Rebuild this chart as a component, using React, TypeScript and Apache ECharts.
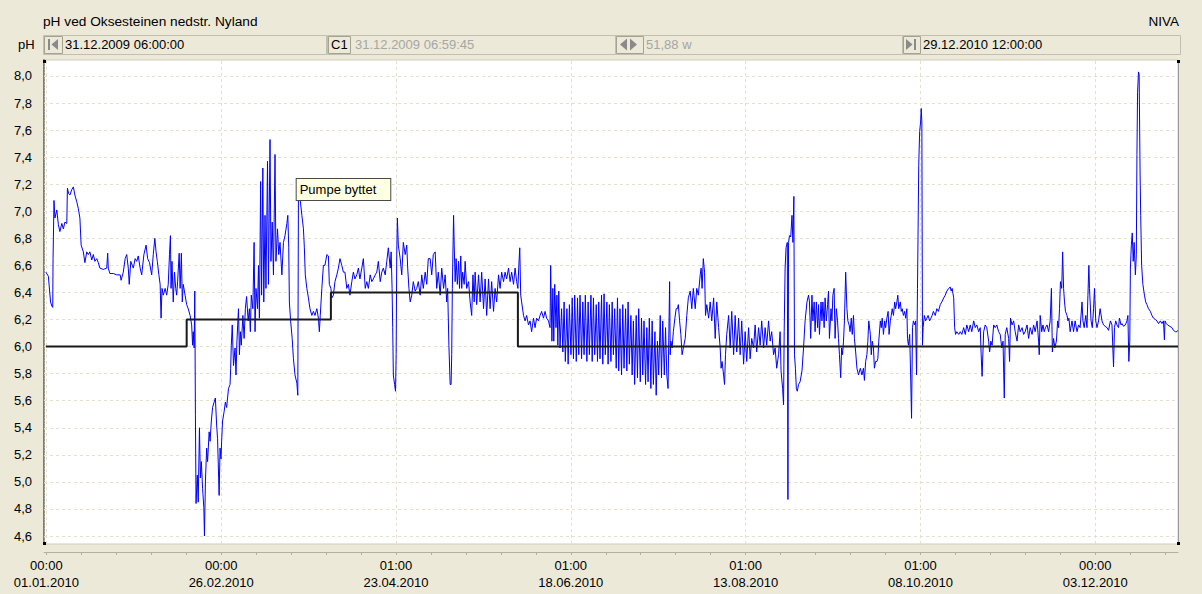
import React, { useEffect, useRef } from "react";
import * as echarts from "echarts";

const FONT = '"Liberation Sans", Arial, sans-serif';

// ---- axis ranges (days since 31.12.2009 06:00) ----
const X_MIN = 0;
const X_MAX = 363.25;
const Y_MIN = 4.541;
const Y_MAX = 8.118;

// ---- tick labels ----
const yTicks = [4.6, 4.8, 5.0, 5.2, 5.4, 5.6, 5.8, 6.0, 6.2, 6.4, 6.6, 6.8, 7.0, 7.2, 7.4, 7.6, 7.8, 8.0];
const xLabelDays = [0.75, 56.75, 112.75, 168.75, 224.75, 280.75, 336.75];
const xLabelTimes = ["00:00", "00:00", "01:00", "01:00", "01:00", "01:00", "00:00"];
const xLabelDates = ["01.01.2010", "26.02.2010", "23.04.2010", "18.06.2010", "13.08.2010", "08.10.2010", "03.12.2010"];

// ---- limit (step) line ----
const stepDays = [0.6, 45.7, 91.9, 151.8, 363.25];
const stepValues = [6.0, 6.2, 6.4, 6.0, 6.0];

// ---- annotation ----
const annotationText = "Pumpe byttet";
const annotationDay = 81.1;
const annotationValue = 7.08;

// ---- pH measurements [day, pH] ----
const phJanApr: [number, number][] = [
  [0.6,6.55],[1.4,6.52],[2.1,6.33],[2.5,6.30],[2.8,6.29],[2.9,6.65],[3.2,7.08],[3.5,6.95],[4.1,7.01],[4.6,6.90],
  [5.1,6.85],[5.7,6.91],[6.2,6.87],[6.7,6.92],[7.3,6.91],[7.5,7.17],[7.9,7.13],[8.3,7.12],[8.9,7.16],[9.4,7.18],
  [9.9,7.12],[10.5,7.07],[11.0,7.02],[11.5,6.95],[11.9,6.75],[12.6,6.70],[13.1,6.62],[13.7,6.70],[14.2,6.68],[14.7,6.70],
  [15.3,6.64],[15.8,6.68],[16.3,6.63],[16.9,6.65],[17.4,6.62],[17.9,6.58],[19.0,6.57],[20.1,6.58],[20.4,6.69],[20.6,6.58],
  [21.1,6.54],[22.2,6.54],[23.3,6.53],[24.4,6.53],[24.7,6.49],[25.4,6.55],[26.0,6.65],[26.5,6.68],[27.0,6.58],[27.3,6.46],
  [27.8,6.63],[28.6,6.58],[29.2,6.65],[29.7,6.63],[30.2,6.67],[30.8,6.58],[31.3,6.53],[32.0,6.68],[32.7,6.75],[33.2,6.65],
  [33.8,6.62],[34.5,6.53],[35.0,6.68],[35.5,6.80],[35.9,6.70],[36.3,6.63],[36.8,6.53],[37.2,6.46],[37.5,6.21],[37.8,6.43],
  [38.2,6.38],[38.8,6.43],[39.3,6.38],[39.8,6.46],[40.2,6.68],[40.5,6.82],[40.7,6.43],[41.0,6.63],[41.4,6.33],[41.8,6.55],
  [42.2,6.43],[42.5,6.38],[42.8,6.48],[43.3,6.69],[43.6,6.43],[44.0,6.69],[44.3,6.33],[44.6,6.46],[45.2,6.38],[45.7,6.31],
  [46.2,6.28],[46.8,6.23],[47.3,6.16],[47.6,6.01],[47.8,6.11],[48.1,5.99],[48.3,6.41],[48.5,5.50],[48.7,4.84],[49.1,5.05],
  [49.4,4.85],[49.8,5.40],[50.1,5.03],[50.4,5.15],[50.8,4.95],[51.2,4.81],[51.4,4.60],[51.7,5.00],[52.1,5.25],[52.4,5.15],
  [52.9,5.37],[53.2,5.30],[53.6,5.45],[54.0,5.55],[54.5,5.59],[54.9,5.62],[55.3,5.42],[55.6,5.32],[56.1,4.90],[56.4,5.25],
  [56.7,5.17],[56.9,5.30],[57.2,5.45],[57.7,5.52],[58.1,5.59],[58.5,5.55],[59.1,5.69],[59.6,5.72],[59.8,5.84],[60.0,6.01],
  [60.3,6.16],[60.7,5.86],[61.2,5.99],[61.5,5.79],[61.8,6.04],[62.3,6.28],[62.6,5.94],[62.9,6.11],[63.2,6.01],[63.7,6.23],
  [64.1,6.06],[64.5,6.28],[64.9,6.37],[65.4,6.19],[65.8,6.28],[66.1,6.11],[66.4,6.38],[66.9,6.28],[67.3,6.77],[67.6,6.11],
  [67.9,6.43],[68.4,6.28],[68.7,6.60],[69.0,6.21],[69.4,7.22],[69.7,6.38],[70.1,7.32],[70.4,6.33],[70.8,6.97],[71.1,6.43],
  [71.6,7.37],[71.9,6.46],[72.4,7.53],[72.7,6.63],[73.1,6.92],[73.5,6.53],[74.0,7.42],[74.3,6.63],[74.8,6.87],[75.2,6.68],
  [75.6,6.77],[76.2,6.53],[76.7,6.77],[77.2,6.82],[77.8,6.91],[78.1,6.97],[78.4,6.73],[78.6,6.33],[79.0,6.19],[79.5,6.06],
  [79.9,5.91],[80.4,5.79],[81.0,5.73],[81.3,5.64],[81.5,7.10],[82.0,7.10],[82.6,6.97],[83.1,6.87],[83.4,6.73],[83.7,6.53],
  [84.2,6.43],[84.7,6.36],[85.2,6.28],[85.8,6.23],[86.3,6.26],[86.8,6.23],[87.4,6.28],[87.9,6.21],[88.2,6.11],[88.5,6.23],
  [89.0,6.43],[89.5,6.60],[90.0,6.60],[90.6,6.68],[91.1,6.67],[91.4,6.46],[91.9,6.43],[92.2,6.36],[92.7,6.38],[93.2,6.48],
  [93.8,6.53],[94.3,6.58],[94.8,6.65],[95.4,6.60],[95.9,6.55],[96.4,6.55],[97.0,6.43],[97.5,6.46],[98.0,6.38],[98.6,6.48],
  [99.1,6.55],[99.6,6.50],[100.2,6.53],[100.7,6.58],[101.2,6.50],[101.8,6.58],[102.3,6.65],[102.9,6.43],[103.4,6.48],[103.9,6.43],
  [104.5,6.53],[105.0,6.48],[105.5,6.50],[106.1,6.53],[106.6,6.55],[107.1,6.63],[107.7,6.48],[108.2,6.55],[108.7,6.58],[109.3,6.53],
  [109.8,6.63],[110.3,6.73],[110.9,6.58],[111.2,6.70],[111.5,6.43],[111.7,6.14],[111.9,5.79],[112.3,5.72],[112.6,5.67],[112.8,5.94],
  [113.0,6.68],[113.2,6.95],[113.5,6.75],[114.1,6.65],[114.6,6.53],[115.1,6.77],[115.7,6.68],[116.2,6.75],[116.5,6.58],[116.9,6.43],
  [117.3,6.33],[117.8,6.38],[118.3,6.48],[118.9,6.41],[119.4,6.43],[119.9,6.48],[120.5,6.38],[121.0,6.53],[121.5,6.43],[122.1,6.55],
  [122.6,6.46],[123.1,6.65],
];

const phMayAug: [number, number][] = [
  [123.7,6.65],[124.2,6.53],[124.7,6.68],[125.3,6.70],[125.8,6.43],[126.3,6.55],[126.9,6.38],[127.4,6.58],[128.0,6.43],[128.5,6.53],
  [129.0,6.33],[129.3,6.43],[129.7,6.01],[130.1,5.72],[130.4,5.72],[130.6,5.94],[130.8,6.43],[131.2,6.97],[131.4,6.75],[131.7,6.48],
  [132.0,6.65],[132.4,6.46],[132.8,6.63],[133.1,6.43],[133.5,6.67],[133.8,6.43],[134.1,6.55],[134.6,6.46],[134.9,6.63],[135.4,6.43],
  [136.0,6.48],[136.5,6.33],[137.0,6.23],[137.4,6.53],[137.8,6.33],[138.1,6.55],[138.6,6.31],[139.2,6.53],[139.7,6.33],[140.2,6.55],
  [140.8,6.28],[141.3,6.50],[141.8,6.23],[142.4,6.50],[142.9,6.28],[143.4,6.48],[144.0,6.26],[144.5,6.43],[145.0,6.33],[145.6,6.53],
  [146.1,6.43],[146.6,6.55],[147.2,6.48],[147.7,6.55],[148.2,6.50],[148.8,6.58],[149.3,6.48],[149.8,6.55],[150.4,6.46],[150.9,6.58],
  [151.4,6.48],[151.8,6.43],[152.1,6.60],[152.4,6.73],[152.7,6.38],[153.0,6.33],[153.6,6.23],[154.1,6.19],[154.6,6.23],[155.2,6.16],
  [155.7,6.19],[156.2,6.11],[156.8,6.21],[157.3,6.14],[157.8,6.21],[158.4,6.19],[158.9,6.23],[159.4,6.26],[160.0,6.21],[160.5,6.26],
  [161.0,6.21],[161.6,6.19],[162.1,6.14],[162.3,6.60],[162.7,6.04],[163.0,6.43],[163.3,6.04],[163.6,6.46],[164.0,6.14],[164.3,6.38],
  [164.6,6.01],[164.9,6.41],[165.3,5.99],[165.8,6.28],[166.2,5.96],[166.6,6.33],[167.0,5.89],[167.5,6.28],[167.9,5.87],[168.3,6.31],
  [168.8,5.94],[169.2,6.36],[169.6,5.91],[170.0,6.38],[170.5,5.89],[170.9,6.36],[171.3,5.94],[171.7,6.38],[172.2,5.91],[172.6,6.33],
  [173.0,5.94],[173.4,6.38],[173.9,5.89],[174.3,6.33],[174.7,5.94],[175.2,6.38],[175.6,5.89],[176.0,6.36],[176.4,5.94],[176.9,6.31],
  [177.3,5.89],[177.7,6.33],[178.1,5.91],[178.6,6.38],[179.0,5.87],[179.4,6.39],[179.8,5.94],[180.3,6.33],[180.7,5.87],[181.1,6.31],
  [181.6,5.89],[182.0,6.33],[182.4,5.94],[182.8,6.28],[183.3,5.84],[183.7,6.36],[184.1,5.82],[184.5,6.28],[185.0,5.79],[185.4,6.31],
  [185.8,5.84],[186.3,6.28],[186.7,5.82],[187.1,6.33],[187.5,5.87],[188.0,6.23],[188.4,5.79],[188.8,6.19],[189.2,5.72],[189.7,6.23],
  [190.1,5.77],[190.5,6.28],[191.0,5.74],[191.4,6.21],[191.8,5.79],[192.2,6.19],[192.7,5.72],[193.1,6.14],[193.5,5.74],[193.9,6.21],
  [194.4,5.69],[194.8,6.19],[195.2,5.72],[195.7,6.11],[196.1,5.64],[196.5,6.04],[196.9,5.79],[197.4,6.23],[197.8,5.77],[198.2,6.19],
  [198.7,5.79],[199.1,6.14],[199.5,5.79],[199.9,5.69],[200.4,6.48],[200.6,5.94],[200.8,6.04],[201.2,5.99],[201.6,6.11],[202.1,6.21],
  [202.5,6.28],[202.9,6.28],[203.2,6.31],[203.6,6.19],[204.0,6.09],[204.4,5.94],[204.8,5.99],[205.4,6.06],[205.9,6.23],[206.4,6.36],
  [207.0,6.41],[207.5,6.28],[208.0,6.43],[208.6,6.28],[209.1,6.43],[209.6,6.38],[210.2,6.53],[210.5,6.58],[210.8,6.43],[211.2,6.65],
  [211.6,6.55],[211.9,6.23],[212.3,6.31],[212.9,6.21],[213.4,6.33],[213.9,6.19],[214.5,6.36],[215.0,6.06],[215.5,6.33],[216.1,6.14],
  [216.6,5.99],[216.9,5.84],[217.2,5.89],[217.7,5.79],[218.0,5.72],[218.3,5.94],[218.7,6.09],[219.3,6.23],[219.8,5.99],[220.3,6.26],
  [220.9,5.94],[221.4,6.23],[221.9,5.96],[222.5,6.21],[223.0,5.94],[223.5,6.19],[224.1,5.87],[224.6,6.11],[225.1,5.89],[225.7,6.14],
  [226.2,5.91],[226.7,6.06],[227.3,5.99],[227.8,6.16],[228.3,5.96],[228.9,6.14],[229.4,6.01],[229.9,6.19],[230.5,5.99],[231.0,6.14],
  [231.5,6.01],[232.1,6.19],[232.6,6.04],[233.1,6.11],[233.7,5.94],[234.2,5.99],[234.7,5.84],[235.3,5.94],[235.8,6.11],[236.1,5.82],
  [236.6,5.69],[236.9,5.57],[237.1,6.11],[237.4,6.58],[237.7,6.73],[238.1,6.77],[238.3,4.87],[238.5,6.77],[238.8,6.82],[239.2,6.81],
  [239.6,6.97],[239.9,6.77],[240.2,7.11],[240.4,5.94],[240.7,5.84],[241.0,5.69],[241.3,5.67],[241.7,5.72],[242.2,5.74],[242.8,5.82],
  [243.3,5.99],[243.8,6.19],[244.4,6.33],[244.9,6.38],
];

const phSepDec: [number, number][] = [
  [245.2,6.33],[245.6,6.06],[246.0,6.38],[246.3,6.19],[246.7,6.33],[247.0,6.11],[247.4,6.33],[247.8,6.14],[248.1,6.31],[248.4,6.09],
  [248.9,6.33],[249.2,6.19],[249.5,6.33],[249.9,6.14],[250.2,6.36],[250.6,6.19],[251.0,6.31],[251.3,6.41],[251.6,6.06],[252.1,6.28],
  [252.4,6.19],[252.7,6.38],[253.1,6.43],[253.4,6.06],[253.8,6.28],[254.2,6.19],[254.5,6.06],[254.8,5.94],[255.2,5.77],[255.5,5.99],
  [255.8,5.94],[256.1,6.04],[256.4,6.19],[256.8,6.55],[257.0,6.55],[257.2,6.28],[257.5,6.19],[257.9,6.16],[258.2,6.11],[258.6,6.21],
  [258.9,6.09],[259.3,6.23],[259.6,6.06],[260.0,5.96],[260.4,5.84],[260.9,5.79],[261.5,5.84],[262.0,5.79],[262.5,5.84],[262.8,5.75],
  [263.2,5.89],[263.6,5.94],[263.9,6.04],[264.2,6.19],[264.7,6.09],[265.0,5.94],[265.3,6.04],[265.7,5.99],[266.0,5.84],[266.4,5.89],
  [266.8,5.89],[267.1,5.91],[267.4,6.04],[267.9,6.19],[268.2,6.14],[268.5,6.21],[268.9,6.09],[269.3,6.19],[269.6,6.14],[270.0,6.21],
  [270.4,6.26],[270.7,6.09],[271.1,6.19],[271.4,6.23],[271.7,6.28],[272.1,6.23],[272.5,6.33],[272.8,6.28],[273.2,6.33],[273.5,6.38],
  [273.8,6.28],[274.3,6.33],[274.6,6.26],[274.9,6.28],[275.3,6.23],[275.7,6.26],[276.0,6.21],[276.4,6.28],[276.6,6.06],[276.9,6.01],
  [277.3,6.09],[277.6,5.79],[277.9,5.47],[278.2,6.14],[278.5,6.19],[278.9,6.16],[279.2,6.19],[279.5,5.79],[279.8,6.43],[280.0,6.87],
  [280.2,7.34],[280.5,7.59],[280.8,7.66],[281.0,7.76],[281.2,7.66],[281.4,6.01],[281.6,6.14],[282.0,6.23],[282.4,6.19],[282.8,6.21],
  [283.2,6.23],[283.7,6.19],[284.1,6.21],[284.5,6.23],[284.9,6.26],[285.5,6.23],[286.0,6.28],[286.5,6.26],[287.1,6.31],[287.6,6.33],
  [288.2,6.36],[288.7,6.38],[289.2,6.41],[289.8,6.43],[290.3,6.44],[290.6,6.41],[290.9,6.43],[291.4,6.36],[291.7,6.14],[292.0,6.09],
  [292.4,6.11],[293.0,6.09],[293.5,6.11],[294.0,6.09],[294.6,6.14],[295.1,6.09],[295.6,6.16],[296.2,6.11],[296.7,6.16],[297.2,6.11],
  [297.8,6.19],[298.3,6.14],[298.8,6.16],[299.4,6.11],[299.9,6.14],[300.2,5.94],[300.5,5.78],[301.0,6.11],[301.5,6.16],[302.0,6.14],
  [302.6,6.04],[302.9,5.96],[303.3,6.04],[303.7,6.01],[304.2,6.16],[304.7,6.14],[305.2,6.16],[305.8,6.11],[306.3,6.09],[306.8,5.99],
  [307.2,6.04],[307.6,5.62],[307.9,6.09],[308.4,6.14],[309.0,6.06],[309.3,5.89],[309.6,6.21],[310.1,6.16],[310.6,6.19],[311.1,6.11],
  [311.7,6.04],[312.2,6.16],[312.7,6.11],[313.3,6.14],[313.8,6.09],[314.3,6.11],[314.9,6.16],[315.4,6.06],[315.9,6.14],[316.5,6.09],
  [317.0,6.16],[317.5,6.11],[318.1,6.19],[318.6,6.04],[318.8,5.94],[319.1,6.23],[319.6,6.11],[320.0,6.16],[320.4,6.11],[320.8,6.14],
  [321.3,6.16],[321.8,6.11],[322.3,6.19],[322.7,6.43],[323.0,5.96],[323.4,6.06],[323.8,5.99],[324.3,6.04],[324.7,6.19],[325.0,6.14],
  [325.3,6.28],[325.6,6.48],[326.0,6.43],[326.3,6.70],[326.6,6.43],[326.9,6.33],[327.2,6.26],[327.7,6.23],[328.0,6.19],[328.3,6.21],
  [328.7,6.11],[329.3,6.19],[329.8,6.11],[330.3,6.19],[330.9,6.11],[331.4,6.16],[331.9,6.14],[332.5,6.33],[332.8,6.19],[333.2,6.14],
  [333.7,6.23],[334.1,6.14],[334.4,6.38],[334.7,6.60],[334.9,6.43],[335.4,6.19],[335.8,6.14],[336.2,6.28],[336.5,6.43],[336.9,6.19],
  [337.3,6.14],[337.8,6.19],[338.3,6.28],[338.9,6.19],[339.4,6.16],[339.9,6.15],[340.5,6.14],[341.0,6.12],[341.6,6.19],[342.1,6.16],
  [342.6,5.85],[342.9,6.14],[343.3,6.19],[343.7,6.16],[344.2,6.14],[344.5,6.21],[345.0,6.16],[345.3,6.17],[345.8,6.15],[346.4,6.16],
  [346.9,6.19],[347.2,6.23],[347.5,5.89],[347.8,6.04],[348.0,6.58],[348.3,6.75],[348.6,6.84],[348.9,6.63],[349.2,6.77],[349.6,6.53],
  [349.9,6.68],[350.1,7.42],[350.3,7.88],[350.6,8.03],[350.8,8.01],[351.1,7.29],[351.3,6.97],[351.6,6.60],[352.0,6.46],[352.5,6.38],
  [352.9,6.33],[353.3,6.31],[353.8,6.28],[354.4,6.26],[354.9,6.23],[355.4,6.21],[356.0,6.20],[356.5,6.19],[357.0,6.17],[357.6,6.19],
  [358.1,6.17],[358.6,6.19],[358.9,6.05],[359.1,6.19],[359.5,6.17],[359.9,6.16],[360.6,6.15],[361.3,6.14],[361.8,6.12],[362.4,6.11],
  [362.9,6.11],[363.2,6.12],
];

const phData = [...phJanApr, ...phMayAug, ...phSepDec];

// minor ticks of the bottom strip: 5 per 56-day label step
const minorTickDays: number[] = [];
for (let d = xLabelDays[0]; d <= X_MAX; d += 11.2) minorTickDays.push(d);

const fmtY = (v: number) => v.toFixed(1).replace(".", ",");
const fmtX = (v: number) => {
  const i = xLabelDays.findIndex((d) => Math.abs(d - v) < 1e-6);
  return i >= 0 ? `${xLabelTimes[i]}\n${xLabelDates[i]}` : "";
};

const BG = "#ECE9D8";
const FIELD_STROKE = "#c2bfae";
const BTN_STROKE = "#a5a292";
const ICON = "#8a8a8a";

const txt = (text: string, x: number, y: number, fill = "#000", align = "left", size = 13) => ({
  type: "text",
  silent: true,
  style: { text, x, y, fill, fontSize: size, fontFamily: FONT, verticalAlign: "middle", align },
});
const box = (x: number, y: number, w: number, h: number, stroke: string) => ({
  type: "rect",
  silent: true,
  shape: { x: x + 0.5, y: y + 0.5, width: w, height: h },
  style: { fill: BG, stroke, lineWidth: 1 },
});
const corner = (x: number, y: number) => ({
  type: "rect",
  silent: true,
  shape: { x, y, width: 3, height: 3 },
  style: { fill: "#000" },
  z: 10,
});

const graphic = [
  txt("pH ved Oksesteinen nedstr. Nyland", 43, 21.5, "#000", "left", 13.7),
  txt("NIVA", 1179, 21.5, "#000", "right", 13.5),
  txt("pH", 18, 44.5),
  // field 1
  box(43, 35, 283, 19, FIELD_STROKE),
  box(44, 36, 18, 17, BTN_STROKE),
  { type: "rect", silent: true, shape: { x: 48, y: 39, width: 2, height: 11 }, style: { fill: ICON } },
  { type: "polygon", silent: true, shape: { points: [[58, 39], [58, 50], [51.5, 44.5]] }, style: { fill: ICON } },
  txt("31.12.2009 06:00:00", 65, 44.5),
  // field 2
  box(327, 35, 288, 19, FIELD_STROKE),
  box(328, 36, 22, 17, BTN_STROKE),
  txt("C1", 331, 44.5),
  txt("31.12.2009 06:59:45", 355, 44.5, "#a6a6a6"),
  // field 3
  box(615, 35, 287, 19, FIELD_STROKE),
  box(616, 36, 27, 17, BTN_STROKE),
  { type: "polygon", silent: true, shape: { points: [[627, 38.5], [627, 50.5], [620, 44.5]] }, style: { fill: ICON } },
  { type: "polygon", silent: true, shape: { points: [[630, 38.5], [630, 50.5], [637, 44.5]] }, style: { fill: ICON } },
  txt("51,88 w", 646, 44.5, "#a6a6a6"),
  // field 4
  box(902, 35, 278, 19, FIELD_STROKE),
  box(903, 36, 17, 17, BTN_STROKE),
  { type: "polygon", silent: true, shape: { points: [[906, 39], [906, 50], [912.5, 44.5]] }, style: { fill: ICON } },
  { type: "rect", silent: true, shape: { x: 914, y: 39, width: 2, height: 11 }, style: { fill: ICON } },
  txt("29.12.2010 12:00:00", 923, 44.5),
  // plot frame right edge & corners
  { type: "line", silent: true, shape: { x1: 1178.5, y1: 60, x2: 1178.5, y2: 545 }, style: { stroke: "#9a9a9a", lineWidth: 1 }, z: 10 },
  corner(43, 60),
  corner(43, 542),
  corner(1177, 60),
  corner(1177, 542),
];

const option: any = {
  animation: false,
  backgroundColor: BG,
  textStyle: { fontFamily: FONT },
  grid: {
    left: 44,
    top: 60,
    right: 24,
    bottom: 50,
    show: true,
    backgroundColor: "#ffffff",
    borderColor: "#cfccbc",
    borderWidth: 1,
  },
  xAxis: [
    {
      type: "value",
      min: X_MIN,
      max: X_MAX,
      axisLine: { show: false },
      axisTick: { show: false },
      splitLine: { show: false },
      axisLabel: {
        customValues: xLabelDays,
        formatter: fmtX,
        margin: 13,
        lineHeight: 17,
        fontSize: 13,
        color: "#000",
        fontFamily: FONT,
      },
    },
    {
      type: "value",
      min: X_MIN,
      max: X_MAX,
      position: "bottom",
      offset: 8,
      axisLine: { show: true, lineStyle: { color: "#b3b09f", width: 1 } },
      axisTick: { show: true, customValues: minorTickDays, length: 3, lineStyle: { color: "#b3b09f" } },
      axisLabel: { show: false },
      splitLine: { show: false },
    },
  ],
  yAxis: [
    {
      type: "value",
      min: Y_MIN,
      max: Y_MAX,
      axisLine: { show: true, lineStyle: { color: "#7c7c7c", width: 2 } },
      axisTick: { show: false },
      splitLine: { show: false },
      axisLabel: {
        customValues: yTicks,
        formatter: fmtY,
        margin: 12,
        fontSize: 13,
        color: "#000",
        fontFamily: FONT,
      },
    },
    {
      type: "value",
      min: Y_MIN,
      max: Y_MAX,
      position: "left",
      offset: 9,
      axisLine: { show: true, lineStyle: { color: "#b8b5a4", width: 1, type: [1, 2] } },
      axisTick: { show: false },
      axisLabel: { show: false },
      splitLine: { show: false },
    },
  ],
  series: [
    {
      name: "grid",
      type: "line",
      data: [],
      silent: true,
      z: 1,
      markLine: {
        z: 1,
        silent: true,
        symbol: ["none", "none"],
        label: { show: false },
        lineStyle: { color: "#e4e0cc", type: [3, 3], width: 1 },
        emphasis: { disabled: true },
        data: [
          ...yTicks.map((v) => ({ yAxis: v })),
          ...xLabelDays.map((d) => ({ xAxis: d })),
        ],
      },
    },
    {
      name: "pH",
      type: "line",
      data: phData,
      showSymbol: false,
      symbol: "none",
      z: 3,
      lineStyle: { color: "#0000ff", width: 1 },
      emphasis: { disabled: true },
      markPoint: {
        z: 10,
        symbol: "rect",
        symbolSize: 1,
        itemStyle: { color: "rgba(0,0,0,0)" },
        silent: true,
        label: {
          show: true,
          formatter: annotationText,
          position: [0, 0],
          align: "left",
          verticalAlign: "bottom",
          backgroundColor: "#FFFFE1",
          borderColor: "#4a4a4a",
          borderWidth: 1,
          padding: [4, 14, 3, 3],
          color: "#000",
          fontSize: 13,
          lineHeight: 14,
          fontFamily: FONT,
        },
        data: [{ coord: [annotationDay, annotationValue] }],
      },
    },
    {
      name: "limit",
      type: "line",
      step: "end",
      data: stepDays.map((d, i) => [d, stepValues[i]]),
      showSymbol: false,
      symbol: "none",
      z: 4,
      lineStyle: { color: "#1a1a1a", width: 2 },
      emphasis: { disabled: true },
    },
  ],
  graphic,
};

export default function App() {
  const ref = useRef<HTMLDivElement>(null);
  useEffect(() => {
    const chart = echarts.init(ref.current!, null, { renderer: "svg" });
    chart.setOption(option);
    return () => chart.dispose();
  }, []);
  return (
    <div
      ref={ref}
      style={{ position: "fixed", left: 0, top: 0, width: 1202, height: 594, background: BG }}
    />
  );
}
